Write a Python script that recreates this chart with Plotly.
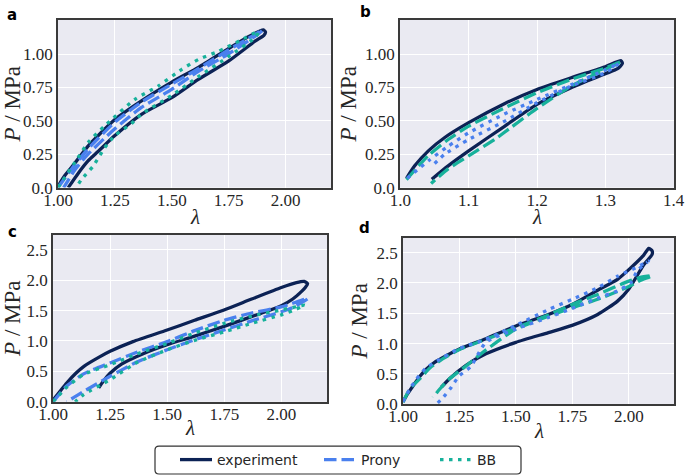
import plotly.graph_objects as go

W, H = 685, 476

# ---------------- data ----------------
# panel a
exp_a_x = [1.00, 1.03, 1.073, 1.132, 1.25, 1.367, 1.50, 1.617, 1.749, 1.837, 1.885, 1.903, 1.912, 1.905, 1.866, 1.749, 1.617, 1.50, 1.367, 1.25, 1.176, 1.132, 1.09, 1.045]
exp_a_y = [0.01, 0.09, 0.18, 0.31, 0.51, 0.65, 0.79, 0.90, 1.04, 1.13, 1.17, 1.18, 1.165, 1.14, 1.096, 0.946, 0.81, 0.673, 0.549, 0.39, 0.27, 0.20, 0.11, 0.0]
prony_a_x = [1.00, 1.073, 1.132, 1.25, 1.367, 1.50, 1.617, 1.749, 1.85, 1.90, 1.88, 1.749, 1.617, 1.50, 1.367, 1.25, 1.132, 1.073, 1.025]
prony_a_y = [0.0, 0.17, 0.29, 0.49, 0.64, 0.775, 0.89, 1.03, 1.13, 1.18, 1.15, 1.0, 0.87, 0.735, 0.60, 0.44, 0.25, 0.13, 0.0]
bb_a_x = [1.00, 1.088, 1.132, 1.213, 1.338, 1.44, 1.543, 1.617, 1.705, 1.80, 1.881, 1.87, 1.749, 1.617, 1.50, 1.367, 1.323, 1.25, 1.206, 1.154, 1.103, 1.08]
bb_a_y = [0.0, 0.225, 0.337, 0.474, 0.66, 0.76, 0.884, 0.959, 1.02, 1.10, 1.17, 1.13, 0.98, 0.83, 0.69, 0.55, 0.48, 0.39, 0.30, 0.16, 0.06, 0.0]

# panel b
exp_b_x = [1.009, 1.021, 1.041, 1.065, 1.10, 1.153, 1.20, 1.25, 1.30, 1.323, 1.325, 1.318, 1.30, 1.25, 1.20, 1.153, 1.10, 1.07, 1.046]
exp_b_y = [0.07, 0.163, 0.275, 0.375, 0.486, 0.63, 0.735, 0.822, 0.905, 0.95, 0.93, 0.89, 0.852, 0.748, 0.623, 0.461, 0.275, 0.163, 0.063]
bb_b_x = [1.009, 1.041, 1.07, 1.10, 1.15, 1.20, 1.25, 1.30, 1.322, 1.30, 1.25, 1.20, 1.15, 1.138, 1.10, 1.07, 1.045]
bb_b_y = [0.06, 0.24, 0.36, 0.46, 0.59, 0.71, 0.81, 0.895, 0.94, 0.884, 0.76, 0.593, 0.405, 0.36, 0.238, 0.14, 0.03]
prony_b_x = [1.01, 1.041, 1.07, 1.10, 1.15, 1.20, 1.25, 1.30, 1.32, 1.30, 1.25, 1.20, 1.15, 1.10, 1.065, 1.046]
prony_b_y = [0.07, 0.20, 0.31, 0.41, 0.545, 0.66, 0.77, 0.88, 0.93, 0.86, 0.76, 0.635, 0.49, 0.36, 0.25, 0.16]

# panel c
exp_c_x = [1.00, 1.03, 1.06, 1.10, 1.134, 1.20, 1.25, 1.35, 1.50, 1.62, 1.749, 1.87, 2.00, 2.066, 2.10, 2.115, 2.105, 2.09, 2.05, 2.00, 1.90, 1.749, 1.62, 1.50, 1.40, 1.30, 1.25, 1.22, 1.20]
exp_c_y = [0.03, 0.17, 0.31, 0.47, 0.58, 0.73, 0.83, 0.99, 1.18, 1.34, 1.51, 1.69, 1.88, 1.96, 1.98, 1.94, 1.88, 1.82, 1.69, 1.58, 1.44, 1.24, 1.08, 0.94, 0.80, 0.62, 0.47, 0.34, 0.23]
prony_c_x = [1.00, 1.06, 1.134, 1.25, 1.37, 1.50, 1.62, 1.749, 1.87, 2.00, 2.117, 2.05, 2.00, 1.87, 1.749, 1.62, 1.50, 1.37, 1.25, 1.134, 1.06]
prony_c_y = [0.0, 0.26, 0.46, 0.64, 0.82, 0.99, 1.17, 1.34, 1.46, 1.56, 1.70, 1.55, 1.48, 1.33, 1.18, 1.02, 0.855, 0.66, 0.42, 0.17, 0.0]
bb_c_x = [1.00, 1.06, 1.134, 1.25, 1.37, 1.50, 1.62, 1.749, 1.87, 2.00, 2.103, 2.05, 2.00, 1.87, 1.749, 1.62, 1.50, 1.37, 1.25, 1.134, 1.097]
bb_c_y = [0.0, 0.24, 0.45, 0.61, 0.79, 0.96, 1.13, 1.29, 1.41, 1.51, 1.59, 1.50, 1.43, 1.29, 1.15, 1.01, 0.855, 0.65, 0.365, 0.12, 0.0]

# panel d
exp_d_x = [1.00, 1.02, 1.046, 1.075, 1.104, 1.14, 1.177, 1.25, 1.367, 1.50, 1.644, 1.749, 1.862, 1.95, 2.00, 2.066, 2.088, 2.103, 2.103, 2.066, 2.00, 1.95, 1.862, 1.749, 1.644, 1.50, 1.367, 1.279, 1.206, 1.17]
exp_d_y = [0.04, 0.17, 0.31, 0.46, 0.58, 0.69, 0.77, 0.91, 1.08, 1.29, 1.48, 1.645, 1.88, 2.06, 2.22, 2.46, 2.57, 2.53, 2.47, 2.30, 1.90, 1.70, 1.48, 1.30, 1.18, 1.02, 0.83, 0.64, 0.42, 0.28]
bb_d_x = [1.00, 1.03, 1.075, 1.12, 1.177, 1.25, 1.367, 1.50, 1.644, 1.749, 1.862, 2.00, 2.06, 2.103, 2.05, 2.00, 1.862, 1.749, 1.644, 1.50, 1.352, 1.279, 1.20, 1.163, 1.133]
bb_d_y = [0.03, 0.25, 0.42, 0.60, 0.75, 0.90, 1.07, 1.26, 1.47, 1.645, 1.81, 2.03, 2.10, 2.12, 2.04, 1.94, 1.73, 1.59, 1.45, 1.24, 0.85, 0.63, 0.40, 0.25, 0.11]
prony_d_x = [1.00, 1.03, 1.061, 1.10, 1.163, 1.25, 1.367, 1.50, 1.644, 1.749, 1.862, 1.95, 2.03, 2.088, 2.06, 2.037, 2.008, 1.95, 1.862, 1.749, 1.644, 1.50, 1.367, 1.30, 1.25, 1.228, 1.214, 1.18, 1.148]
prony_d_y = [0.04, 0.25, 0.42, 0.59, 0.74, 0.92, 1.07, 1.30, 1.56, 1.73, 1.92, 2.11, 2.25, 2.36, 2.28, 2.20, 2.00, 1.87, 1.75, 1.58, 1.43, 1.24, 1.02, 0.62, 0.47, 0.36, 0.28, 0.12, 0.0]

# ticks
x_ticks_wide = [1.00, 1.25, 1.50, 1.75, 2.00]
x_labels_wide = ["1.00", "1.25", "1.50", "1.75", "2.00"]
x_ticks_b = [1.0, 1.1, 1.2, 1.3, 1.4]
x_labels_b = ["1.0", "1.1", "1.2", "1.3", "1.4"]
y_ticks_top = [0.0, 0.25, 0.50, 0.75, 1.00]
y_labels_top = ["0.0", "0.25", "0.50", "0.75", "1.00"]
y_ticks_bot = [0.0, 0.5, 1.0, 1.5, 2.0, 2.5]
y_labels_bot = ["0.0", "0.5", "1.0", "1.5", "2.0", "2.5"]

# ---------------- style ----------------
C_EXP = "#0c2255"
C_PRONY = "#4a80ee"
C_BB = "#17b19b"
LW = 3.3
DASH = "12.5px,5px"
DOT = "3.5px,5.5px"

fig = go.Figure()

def px_x(p):
    return p / W

def px_y(p):
    return 1 - p / H

panels = {
    "a": dict(ax="", dom_x=(58, 331), dom_y=(20, 188), xr=[1.0, 2.2], yr=[0, 1.255],
              xt=(x_ticks_wide, x_labels_wide), yt=(y_ticks_top, y_labels_top), lam=(195, 217)),
    "b": dict(ax="2", dom_x=(400, 674), dom_y=(20, 188), xr=[0.9995, 1.4005], yr=[0, 1.255],
              xt=(x_ticks_b, x_labels_b), yt=(y_ticks_top, y_labels_top), lam=(537, 217)),
    "c": dict(ax="3", dom_x=(53, 327), dom_y=(235, 402.7), xr=[1.0, 2.2], yr=[0, 2.75],
              xt=(x_ticks_wide, x_labels_wide), yt=(y_ticks_bot, y_labels_bot), lam=(190, 429)),
    "d": dict(ax="4", dom_x=(403, 674), dom_y=(238, 405), xr=[1.0, 2.2], yr=[0, 2.75],
              xt=(x_ticks_wide, x_labels_wide), yt=(y_ticks_bot, y_labels_bot), lam=(539, 432)),
}

series = {
    "a": [("experiment", exp_a_x, exp_a_y, C_EXP, "solid"),
          ("Prony", prony_a_x, prony_a_y, C_PRONY, DASH),
          ("BB", bb_a_x, bb_a_y, C_BB, DOT)],
    "b": [("experiment", exp_b_x, exp_b_y, C_EXP, "solid"),
          ("BB", bb_b_x, bb_b_y, C_BB, "13px,5px"),
          ("Prony", prony_b_x, prony_b_y, C_PRONY, DOT)],
    "c": [("experiment", exp_c_x, exp_c_y, C_EXP, "solid"),
          ("Prony", prony_c_x, prony_c_y, C_PRONY, DASH),
          ("BB", bb_c_x, bb_c_y, C_BB, DOT)],
    "d": [("experiment", exp_d_x, exp_d_y, C_EXP, "solid"),
          ("BB", bb_d_x, bb_d_y, C_BB, "13px,5px"),
          ("Prony", prony_d_x, prony_d_y, C_PRONY, DOT)],
}

legend_map = {"experiment": "legend", "Prony": "legend2", "BB": "legend3"}

serif = "Liberation Serif"
layout = {}
for key, p in panels.items():
    ax = p["ax"]
    for name, xs, ys, col, dash in series[key]:
        fig.add_trace(go.Scatter(
            x=xs, y=ys, mode="lines", name=name,
            line=dict(color=col, width=LW, dash=dash, shape="spline", smoothing=0.6),
            xaxis="x" + ax, yaxis="y" + ax,
            showlegend=(key == "a"), legend=legend_map[name],
            hoverinfo="skip"))
    common = dict(showline=True, mirror=True, linecolor="#3a3a3a", linewidth=1.6,
                  showgrid=True, gridcolor="white", gridwidth=1.3, zeroline=False,
                  automargin=False,
                  ticks="", tickfont=dict(family=serif, size=17, color="#262626"))
    layout["xaxis" + ax] = dict(common, domain=[px_x(p["dom_x"][0]), px_x(p["dom_x"][1])],
                                range=p["xr"], anchor="y" + ax,
                                tickvals=p["xt"][0], ticktext=p["xt"][1],
                                ticklabelstandoff=-4)
    layout["yaxis" + ax] = dict(common, domain=[px_y(p["dom_y"][1]), px_y(p["dom_y"][0])],
                                range=p["yr"], anchor="x" + ax,
                                tickvals=p["yt"][0], ticktext=p["yt"][1],
                                title=dict(text="<i>P</i> / MPa", font=dict(family=serif, size=23, color="#262626"),
                                           standoff=2))
    fig.add_annotation(text="<i>λ</i>", x=px_x(p["lam"][0]), y=px_y(p["lam"][1]),
                       xref="paper", yref="paper", showarrow=False,
                       xanchor="center", yanchor="middle",
                       font=dict(family=serif, size=21, color="#262626"))

fig.update_layout(**layout)

# panel letters
letters = [("a", 12.5, 15), ("b", 365, 12), ("c", 12.5, 232), ("d", 364, 228)]
for t, x, y in letters:
    fig.add_annotation(text="<b>%s</b>" % t, x=px_x(x), y=px_y(y), xref="paper", yref="paper",
                       showarrow=False, xanchor="center", yanchor="middle",
                       font=dict(family="DejaVu Sans", size=15, color="black"))

# legends
leg_common = dict(orientation="h", yanchor="middle", y=px_y(461), xanchor="left",
                  bgcolor="rgba(0,0,0,0)", borderwidth=0, itemwidth=32,
                  font=dict(family="DejaVu Sans", size=14, color="#262626"))
fig.update_layout(
    legend=dict(leg_common, x=px_x(175)),
    legend2=dict(leg_common, x=px_x(319)),
    legend3=dict(leg_common, x=px_x(435)),
)

# rounded legend frame
x0, x1, y0, y1, r = 155, 521, 447, 475, 4
path = ("M {a},{b} L {c},{b} Q {x1},{b} {x1},{d} L {x1},{e} Q {x1},{y1} {c},{y1} "
        "L {a},{y1} Q {x0},{y1} {x0},{e} L {x0},{d} Q {x0},{b} {a},{b} Z").format(
    a=px_x(x0 + r), b=px_y(y0), c=px_x(x1 - r), d=px_y(y0 + r), e=px_y(y1 - r),
    x0=px_x(x0), x1=px_x(x1), y1=px_y(y1))
fig.add_shape(type="path", path=path, xref="paper", yref="paper",
              line=dict(color="#333333", width=1.2), fillcolor="rgba(0,0,0,0)")

fig.update_layout(width=W, height=H, autosize=False,
                  margin=dict(l=0, r=0, t=0, b=0),
                  paper_bgcolor="white", plot_bgcolor="#eaeaf2")

fig.write_html("out.html", config={"displayModeBar": False},
               post_script="document.body.style.margin='0';")
